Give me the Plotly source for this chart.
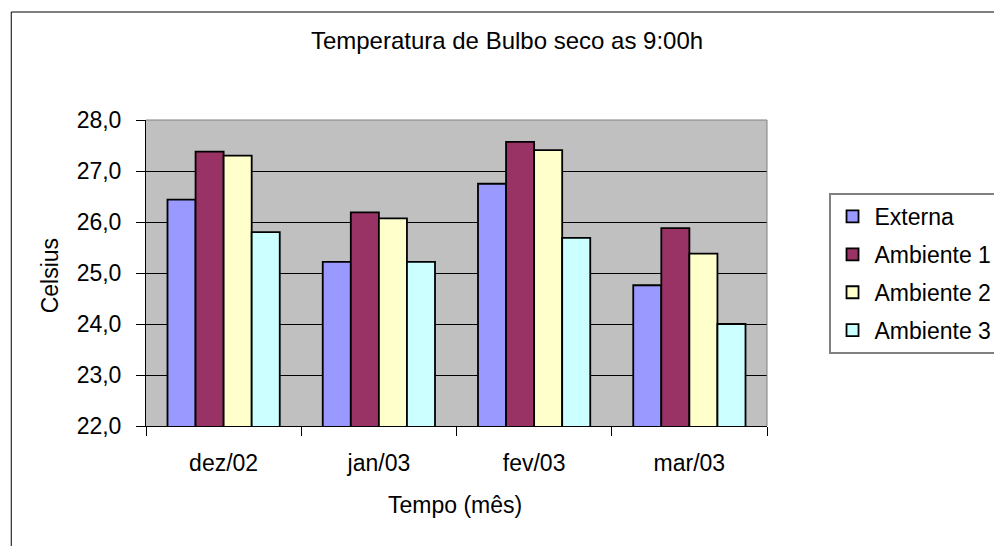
import plotly.graph_objects as go

categories = ["dez/02", "jan/03", "fev/03", "mar/03"]
externa = [26.44, 25.22, 26.75, 24.76]
ambiente1 = [27.38, 26.19, 27.57, 25.88]
ambiente2 = [27.30, 26.07, 27.41, 25.38]
ambiente3 = [25.80, 25.22, 25.69, 24.00]
series_names = ["Externa", "Ambiente 1", "Ambiente 2", "Ambiente 3"]
series_values = [externa, ambiente1, ambiente2, ambiente3]
colors = ["#9999FF", "#993366", "#FFFFCC", "#CCFFFF"]
y_ticks = [22, 23, 24, 25, 26, 27, 28]

FONT = "Liberation Sans, Arial, sans-serif"

fig = go.Figure()
for name, vals, col in zip(series_names, series_values, colors):
    fig.add_trace(go.Bar(
        x=categories, y=vals, name=name, legendgroup=name,
        marker=dict(color=col, line=dict(color="black", width=1.8)),
    ))

# the page body has an 8px margin, so figure coords = screen coords - 8
OFF = 8
W, H = 1002, 546
L, R, T, B = 146 - OFF, 782 - OFF, 120 - OFF, 426 - OFF
pw, ph = R - L, B - T

def px_x(x):
    return (x - OFF - L) / pw

def px_y(y):
    return (B - (y - OFF)) / ph

fig.update_layout(
    width=W, height=H,
    margin=dict(l=L, r=W - R, t=T, b=H - B, pad=0),
    paper_bgcolor="white",
    plot_bgcolor="#C0C0C0",
    barmode="group",
    bargap=0.277,
    bargroupgap=0,
    separators=",.",
    font=dict(family=FONT, size=23, color="black"),
    title=dict(text="Temperatura de Bulbo seco as 9:00h",
               x=(507 - OFF) / W, xref="container",
               y=1 - (41 - OFF) / H, yanchor="middle", xanchor="center",
               font=dict(family=FONT, size=24, color="black")),
    showlegend=True,
    legend=dict(x=px_x(845), y=px_y(193), xanchor="left", yanchor="top",
                bordercolor="#808080", borderwidth=2, bgcolor="white",
                font=dict(family=FONT, size=23), tracegroupgap=5,
                itemwidth=34),
    xaxis=dict(
        type="category", showgrid=False, ticks="outside", tickson="boundaries",
        ticklen=9, tickcolor="black", showline=True, linecolor="black", linewidth=1,
        tickfont=dict(family=FONT, size=23), ticklabelstandoff=16,
    ),
    yaxis=dict(
        range=[22, 28], tickvals=y_ticks, tickformat=".1f",
        showgrid=True, gridcolor="black", gridwidth=1,
        ticks="outside", ticklen=9, tickcolor="black",
        showline=True, linecolor="black", linewidth=1,
        tickfont=dict(family=FONT, size=23), zeroline=False,
        ticklabelstandoff=10,
    ),
    shapes=[
        dict(type="rect", xref="paper", yref="paper",
             x0=px_x(8), x1=px_x(1030), y0=px_y(580), y1=px_y(12),
             line=dict(color="black", width=1), fillcolor="rgba(0,0,0,0)", layer="below"),
        dict(type="line", xref="paper", yref="paper", x0=0, x1=1, y0=1, y1=1,
             line=dict(color="#808080", width=1)),
        dict(type="line", xref="paper", yref="paper", x0=1, x1=1, y0=0, y1=1,
             line=dict(color="#808080", width=1)),
    ],
    annotations=[
        dict(text="Celsius", xref="paper", yref="paper", x=px_x(48), y=px_y(276),
             showarrow=False, textangle=-90, font=dict(family=FONT, size=23),
             xanchor="center", yanchor="middle"),
        dict(text="Tempo (mês)", xref="paper", yref="paper", x=px_x(462), y=px_y(505),
             showarrow=False, font=dict(family=FONT, size=23),
             xanchor="center", yanchor="middle"),
    ],
)

fig.write_html("out.html")
